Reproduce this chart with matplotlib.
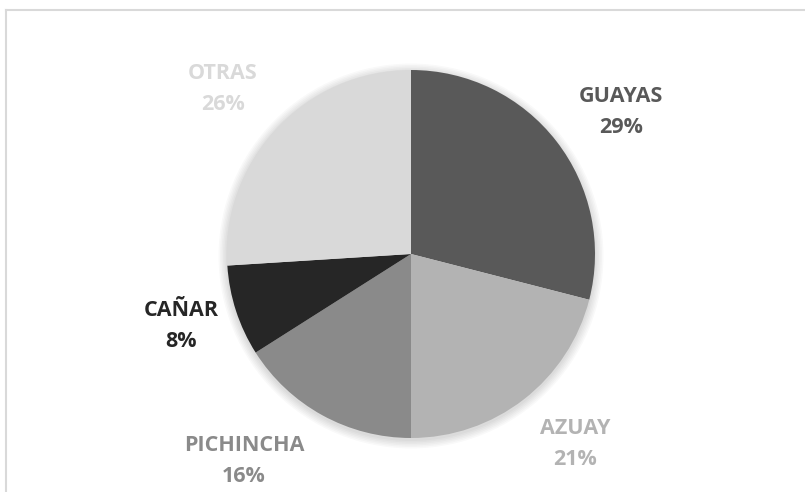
import matplotlib.pyplot as plt
from matplotlib.lines import Line2D

# ----- Data -----
provincias = ["GUAYAS", "AZUAY", "PICHINCHA", "CAÑAR", "OTRAS"]
porcentajes = [29, 21, 16, 8, 26]
colores = ["#595959", "#b3b3b3", "#8a8a8a", "#262626", "#d9d9d9"]

# label block centers in pixel coords (x, y from top)
label_pos = [(621, 112), (575, 444), (244, 461), (181, 326), (223, 89)]

W, H = 805, 492
fig = plt.figure(figsize=(W / 100, H / 100), dpi=100)
ax = fig.add_axes([0, 0, 1, 1])

cx, cy, r = 411, H - 254, 184

# soft shadow around the pie
for i in range(6):
    c = plt.Circle((cx, cy - 2), r + 1 + i * 1.5, color="black", alpha=0.025, lw=0, zorder=1)
    ax.add_patch(c)

ax.pie(porcentajes, colors=colores, startangle=90, counterclock=False,
       center=(cx, cy), radius=r, frame=True,
       wedgeprops=dict(linewidth=0, zorder=2))
ax.set_xlim(0, W)
ax.set_ylim(0, H)
ax.set_aspect("equal")
ax.axis("off")

for name, pct, col, (px, py) in zip(provincias, porcentajes, colores, label_pos):
    ax.text(px, H - py, f"{name}\n{pct}%", color=col, ha="center", va="center",
            fontsize=15.5, fontweight="bold", family=["Open Sans", "DejaVu Sans"],
            linespacing=1.6, zorder=3)

# chart border (top and left visible)
ax.add_line(Line2D([5.5, W], [H - 9.5, H - 9.5], color="#d9d9d9", lw=1.5))
ax.add_line(Line2D([5.5, 5.5], [0, H - 9.5], color="#d9d9d9", lw=1.5))

fig.savefig("out.png", dpi=100)
